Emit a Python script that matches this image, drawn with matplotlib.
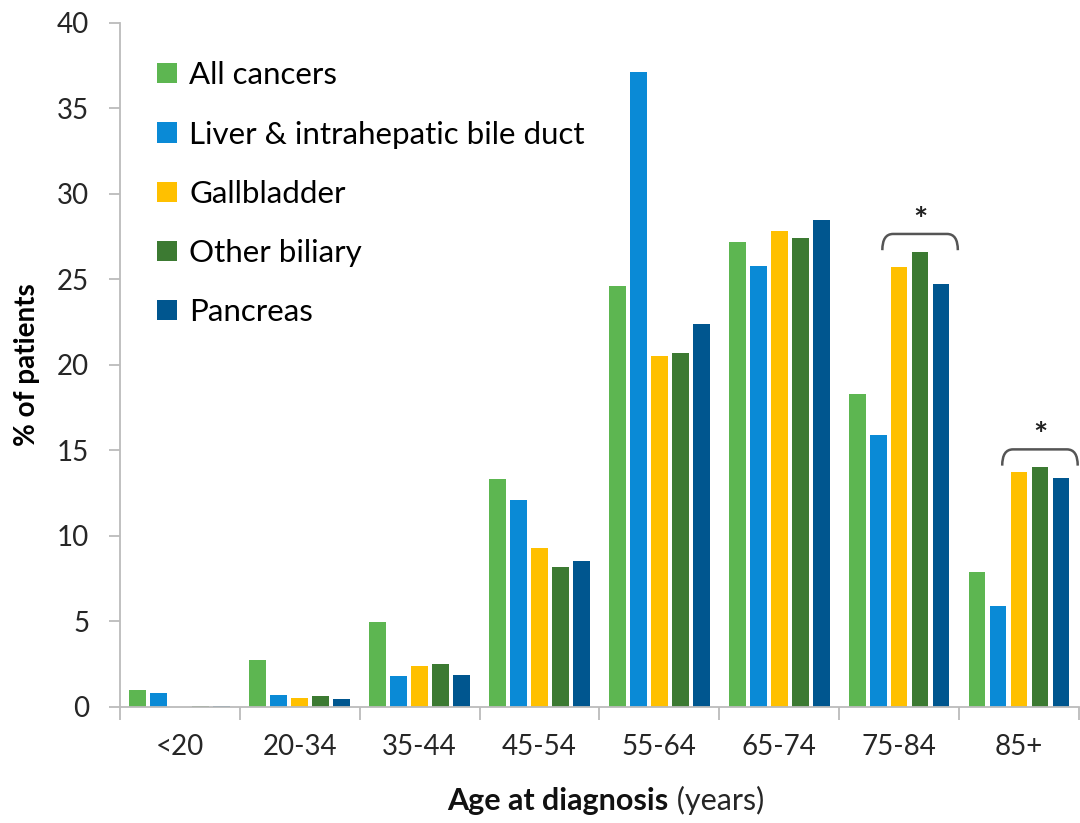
import numpy as np
import matplotlib
matplotlib.use("Agg")
import matplotlib.pyplot as plt
from matplotlib.path import Path
from matplotlib.patches import PathPatch

plt.rcParams['font.family'] = ['Lato', 'DejaVu Sans']

age_groups = ['<20', '20-34', '35-44', '45-54', '55-64', '65-74', '75-84', '85+']
series_names = ['All cancers', 'Liver & intrahepatic bile duct', 'Gallbladder',
                'Other biliary', 'Pancreas']
all_cancers = [1.0, 2.75, 4.97, 13.3, 24.6, 27.2, 18.3, 7.9]
liver = [0.8, 0.7, 1.8, 12.1, 37.1, 25.8, 15.9, 5.9]
gallbladder = [0.0, 0.5, 2.4, 9.3, 20.5, 27.8, 25.7, 13.7]
other_biliary = [0.07, 0.6, 2.48, 8.2, 20.7, 27.4, 26.6, 14.0]
pancreas = [0.07, 0.47, 1.86, 8.55, 22.4, 28.45, 24.7, 13.4]
starred_groups = ['75-84', '85+']

colors = ['#5DB651', '#0A8AD6', '#FFC000', '#3C7A32', '#00568F']
series = [all_cancers, liver, gallbladder, other_biliary, pancreas]

fig = plt.figure(figsize=(10.8, 8.23), dpi=100)
ax = fig.add_axes([0.111, 0.1413, 0.888, 0.831])

x = np.arange(len(age_groups))
step = 0.175
width = 0.14
offsets = [(i - 2) * step for i in range(5)]
for vals, name, c, off in zip(series, series_names, colors, offsets):
    ax.bar(x + off, vals, width, color=c, label=name, zorder=2)

# brackets over gallbladder / other biliary / pancreas
for g in starred_groups:
    i = age_groups.index(g)
    left = x[i] + offsets[2] - width / 2 - 0.07
    right = x[i] + offsets[4] + width / 2 + 0.07
    top = max(gallbladder[i], other_biliary[i], pancreas[i]) + 1.05
    drop = 0.95
    r = 0.09
    verts = [(left, top - drop), (left, top), (left + r, top),
             (right - r, top), (right, top), (right, top - drop)]
    codes = [Path.MOVETO, Path.CURVE3, Path.CURVE3,
             Path.LINETO, Path.CURVE3, Path.CURVE3]
    ax.add_patch(PathPatch(Path(verts, codes), fill=False, lw=1.8,
                           edgecolor='#555555', clip_on=False, zorder=3))
    ax.text((left + right) / 2, top + 0.75, '*', ha='center', va='center',
            fontsize=24, fontweight='bold', color='#222222')

ax.set_xlim(-0.5, len(age_groups) - 0.5)
ax.set_ylim(0, 40)
ax.set_yticks(np.arange(0, 41, 5))
ax.set_xticks(x)
ax.set_xticklabels(age_groups)
ax.set_xticks(np.arange(-0.5, len(age_groups), 1), minor=True)
ax.tick_params(axis='x', which='major', length=0, pad=20, labelsize=20,
               labelcolor='#262626')
ax.tick_params(axis='x', which='minor', length=9, width=1.3, color='#BBBBBB',
               direction='out')
ax.tick_params(axis='y', length=8, width=1.3, color='#BBBBBB', pad=14,
               labelsize=20, labelcolor='#262626')

for s in ['top', 'right']:
    ax.spines[s].set_visible(False)
for s in ['left', 'bottom']:
    ax.spines[s].set_color('#BBBBBB')
    ax.spines[s].set_linewidth(1.3)

ax.set_ylabel('% of patients', fontsize=20, fontweight='bold', labelpad=12)
fig.text(0.619, 0.027, 'Age at diagnosis', ha='right', va='center',
         fontsize=22, fontweight='bold', color='#111111')
fig.text(0.619, 0.027, ' (years)', ha='left', va='center', fontsize=22,
         color='#262626')

ax.legend(loc='upper left', bbox_to_anchor=(0.026, 0.962), frameon=False,
          fontsize=22.5, handlelength=0.62, handleheight=0.62,
          handletextpad=0.4, labelspacing=1.0, borderaxespad=0)

fig.savefig('out.png', dpi=100)
